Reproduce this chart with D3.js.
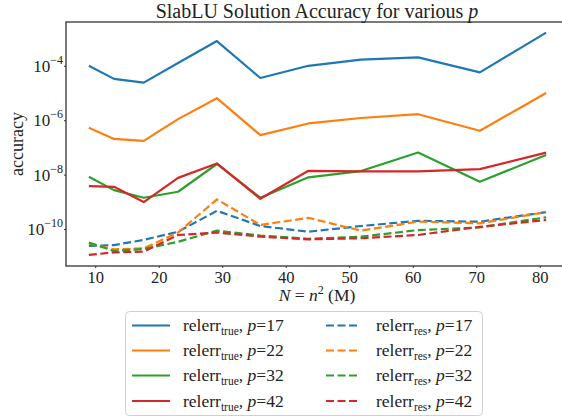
<!DOCTYPE html>
<html><head><meta charset="utf-8">
<script src="https://cdn.jsdelivr.net/npm/d3@7"></script>
<style>body{margin:0;background:#fff}svg{display:block}</style>
</head><body><svg id="c" width="562" height="418"></svg>
<script>
const xs = [9, 12.96, 17.64, 23.04, 29.16, 36, 43.56, 51.84, 60.84, 70.56, 81];
const pvals = [17, 22, 32, 42];
const colors = ["#1f77b4", "#ff7f0e", "#2ca02c", "#d62728"];
// log10 of relerr_true for p = 17, 22, 32, 42
const trueP17 = [-4.00, -4.48, -4.62, -3.90, -3.09, -4.45, -4.00, -3.77, -3.69, -4.24, -2.78];
const trueP22 = [-6.28, -6.69, -6.76, -5.96, -5.19, -6.55, -6.12, -5.92, -5.78, -6.39, -5.00];
const trueP32 = [-8.08, -8.57, -8.85, -8.63, -7.61, -8.85, -8.10, -7.87, -7.19, -8.26, -7.28];
const trueP42 = [-8.42, -8.45, -9.01, -8.12, -7.59, -8.89, -7.86, -7.88, -7.88, -7.80, -7.19];
// log10 of relerr_res
const resP17 = [-10.62, -10.59, -10.40, -10.10, -9.33, -9.89, -10.10, -9.89, -9.70, -9.73, -9.38];
const resP22 = [-10.53, -10.75, -10.71, -10.13, -8.91, -9.85, -9.59, -10.06, -9.73, -9.79, -9.38];
const resP32 = [-10.50, -10.81, -10.73, -10.47, -10.06, -10.24, -10.36, -10.28, -10.04, -9.94, -9.57];
const resP42 = [-10.95, -10.86, -10.83, -10.22, -10.13, -10.28, -10.38, -10.34, -10.22, -9.92, -9.67];
const xTicks = [10, 20, 30, 40, 50, 60, 70, 80];
const yTickExps = [-4, -6, -8, -10];

const trueSeries = [trueP17, trueP22, trueP32, trueP42];
const resSeries = [resP17, resP22, resP32, resP42];

const svg = d3.select("#c");
const FONT = "'Liberation Serif', 'DejaVu Serif', serif";
const L = 66, R = 569, T = 22, B = 266;
const x = d3.scaleLinear().domain([5.4, 84.6]).range([L, R]);
const y = d3.scaleLog().domain([Math.pow(10, -11.36), Math.pow(10, -2.39)]).range([B, T]);

const g = svg.append("g");
svg.append("clipPath").attr("id", "pc").append("rect")
  .attr("x", L).attr("y", T).attr("width", R - L).attr("height", B - T);

const line = d3.line().x((d, i) => x(xs[i])).y(d => y(Math.pow(10, d)));
const lines = g.append("g").attr("clip-path", "url(#pc)");
trueSeries.forEach((s, k) => {
  lines.append("path").attr("d", line(s)).attr("fill", "none")
    .attr("stroke", colors[k]).attr("stroke-width", 2.2).attr("stroke-linejoin", "round");
});
resSeries.forEach((s, k) => {
  lines.append("path").attr("d", line(s)).attr("fill", "none")
    .attr("stroke", colors[k]).attr("stroke-width", 2.2).attr("stroke-dasharray", "8,3.5");
});

// spines
g.append("rect").attr("x", L).attr("y", T).attr("width", R - L).attr("height", B - T)
  .attr("fill", "none").attr("stroke", "#333").attr("stroke-width", 1.3);

// x axis ticks
const xAxis = d3.axisBottom(x).tickValues(xTicks).tickSize(2).tickPadding(3);
const gx = g.append("g").attr("transform", `translate(0,${B})`).call(xAxis);
gx.select(".domain").remove();
gx.selectAll("line").attr("stroke", "#333");
gx.selectAll("text").attr("font-family", FONT).attr("font-size", 16.5).attr("fill", "#222");

// y axis ticks with superscript
const yAxis = d3.axisLeft(y).tickValues(yTickExps.map(e => Math.pow(10, e))).tickSize(2).tickFormat("");
const gy = g.append("g").attr("transform", `translate(${L},0)`).call(yAxis);
gy.select(".domain").remove();
gy.selectAll("line").attr("stroke", "#333");
yTickExps.forEach(e => {
  const t = g.append("text").attr("x", L - 3).attr("y", y(Math.pow(10, e)) + 6)
    .attr("text-anchor", "end").attr("font-family", FONT).attr("font-size", 17).attr("fill", "#222");
  t.append("tspan").text("10");
  t.append("tspan").attr("dy", -8).attr("font-size", 12).text("\u2212" + Math.abs(e));
});

// title
const title = svg.append("text").attr("x", 317).attr("y", 18).attr("text-anchor", "middle")
  .attr("font-family", FONT).attr("font-size", 20).attr("fill", "#222");
title.append("tspan").text("SlabLU Solution Accuracy for various ");
title.append("tspan").attr("font-style", "italic").text("p");

// x label
const xl = svg.append("text").attr("x", 317).attr("y", 301).attr("text-anchor", "middle")
  .attr("font-family", FONT).attr("font-size", 17.5).attr("fill", "#222");
xl.append("tspan").attr("font-style", "italic").text("N");
xl.append("tspan").text(" = ");
xl.append("tspan").attr("font-style", "italic").text("n");
xl.append("tspan").attr("dy", -7).attr("font-size", 12).text("2");
xl.append("tspan").attr("dy", 7).text(" (M)");

// y label
svg.append("text").attr("transform", `translate(23,${(T + B) / 2}) rotate(-90)`)
  .attr("text-anchor", "middle").attr("font-family", FONT).attr("font-size", 18).attr("fill", "#222")
  .text("accuracy");

// legend
const lg = svg.append("g");
lg.append("rect").attr("x", 125.5).attr("y", 311.5).attr("width", 357).attr("height", 104)
  .attr("rx", 4).attr("fill", "#fff").attr("stroke", "#d0d0d0").attr("stroke-width", 1);
const rowY = [325.5, 350.5, 375.5, 401];
pvals.forEach((p, k) => {
  [0, 1].forEach(col => {
    const hx = col === 0 ? 132 : 326;
    const hw = col === 0 ? 38 : 32;
    const tx = col === 0 ? 183 : 376;
    lg.append("line").attr("x1", hx).attr("x2", hx + hw).attr("y1", rowY[k]).attr("y2", rowY[k])
      .attr("stroke", colors[k]).attr("stroke-width", 2.2)
      .attr("stroke-dasharray", col === 0 ? null : "8,3.5");
    const t = lg.append("text").attr("x", tx).attr("y", rowY[k] + 5.5)
      .attr("font-family", FONT).attr("font-size", 17.5).attr("fill", "#222");
    t.append("tspan").text("relerr");
    t.append("tspan").attr("dy", 4).attr("font-size", 11.5).text(col === 0 ? "true" : "res");
    t.append("tspan").attr("dy", -4).text(", ");
    t.append("tspan").attr("font-style", "italic").text("p");
    t.append("tspan").text("=" + p);
  });
});
</script></body></html>
